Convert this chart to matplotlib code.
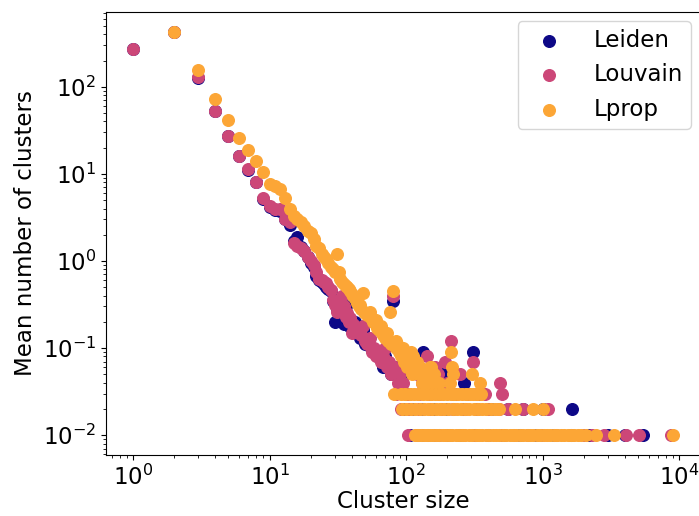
import matplotlib
matplotlib.use("Agg")
import matplotlib.pyplot as plt

# ---------------- data ----------------
series_names = ["Leiden", "Louvain", "Lprop"]
series_colors = ["#0d0887", "#cc4778", "#fca636"]

# Leiden: main band
leiden_sizes = [1, 2, 3, 4, 5, 6, 7, 8, 9, 10, 11, 12, 13, 14, 15, 16, 17, 18, 19, 20,
                21, 22, 23, 24, 25, 26, 27, 28, 29, 30, 31, 32, 33, 35, 36, 38, 40, 42, 44, 46,
                48, 50, 53, 55, 58, 61, 63, 65, 68, 70, 74, 77, 80, 85, 90, 96, 133, 141, 160, 186,
                220, 267, 307, 340]
leiden_vals = [270, 420, 125, 52, 27, 16, 11, 8, 5.2, 4.2, 3.8, 3.7, 3.0, 2.6, 1.7, 1.9, 1.45, 1.3, 1.1, 0.95,
               0.85, 0.67, 0.6, 0.58, 0.55, 0.5, 0.48, 0.45, 0.35, 0.2, 0.28, 0.3, 0.26, 0.19, 0.3, 0.18, 0.16, 0.2, 0.15, 0.13,
               0.16, 0.11, 0.12, 0.1, 0.09, 0.08, 0.08, 0.09, 0.06, 0.08, 0.07, 0.05, 0.35, 0.06, 0.04, 0.05, 0.09, 0.05, 0.04, 0.05,
               0.03, 0.04, 0.09, 0.03]
leiden_row02 = [95, 110, 130, 160, 200, 260, 330, 420, 560, 720, 1000, 1640]
leiden_row01 = [106, 130, 160, 200, 250, 320, 400, 520, 680, 900, 1200, 1600, 2200, 3000, 4000, 5400]

# Louvain: main band
louvain_sizes = [1, 2, 3, 4, 5, 6, 7, 8, 9, 10, 11, 12, 13, 14, 15, 16, 17, 18, 19, 20,
                 21, 22, 23, 24, 25, 26, 27, 28, 29, 30, 31, 32, 33, 34, 35, 36, 37, 38, 39, 40,
                 41, 42, 43, 45, 47, 48, 50, 52, 54, 56, 58, 60, 63, 66, 68, 70, 73, 75, 78, 80,
                 83, 87, 90, 95, 110, 120, 130, 141, 162, 170, 192, 200, 214, 250, 310, 484]
louvain_vals = [270, 420, 128, 53, 27, 16, 11.3, 8.1, 5.3, 4.3, 3.9, 3.9, 3.0, 2.8, 1.6, 1.5, 1.4, 1.3, 1.1, 1.0,
                0.9, 0.75, 0.62, 0.6, 0.58, 0.56, 0.5, 0.47, 0.36, 0.31, 0.26, 0.3, 0.28, 0.4, 0.3, 0.23, 0.25, 0.2, 0.22, 0.15,
                0.19, 0.17, 0.17, 0.16, 0.14, 0.18, 0.12, 0.11, 0.13, 0.09, 0.1, 0.08, 0.09, 0.07, 0.08, 0.1, 0.06, 0.07, 0.05, 0.4,
                0.06, 0.04, 0.05, 0.04, 0.06, 0.05, 0.04, 0.08, 0.06, 0.05, 0.07, 0.04, 0.12, 0.05, 0.07, 0.04]
louvain_row03 = [85, 100, 105, 125, 150, 175, 230, 280, 330, 375, 500]
louvain_row02 = [92, 105, 125, 150, 180, 220, 270, 330, 400, 480, 557, 712, 1090]
louvain_row01 = [103, 120, 145, 175, 210, 260, 320, 400, 500, 620, 780, 980, 1250, 1600, 2000, 2300,
                 2800, 4090, 5050, 8700]

# Lprop: main band
lprop_sizes = [2, 3, 4, 5, 6, 7, 8, 9, 10, 11, 12, 13, 14, 15, 16, 17, 18, 19, 20,
               21, 22, 23, 24, 25, 26, 27, 28, 29, 30, 31, 32, 33, 34, 35, 36, 37, 38, 39, 40,
               41, 42, 43, 44, 45, 46, 47, 48, 49, 50, 52, 54, 55, 57, 60, 61, 63, 65, 67, 68,
               70, 72, 74, 76, 78, 80, 84, 85, 86, 88, 90, 92, 94, 95, 97, 99, 101, 103, 105, 107,
               108, 110, 112, 113, 115, 119, 121, 125, 127, 130, 133, 138, 141, 145, 149, 153, 155, 160,
               175, 208, 214, 217, 222, 305, 346]
lprop_vals = [426, 155, 73, 42, 26, 19, 14, 10.4, 7.6, 7.3, 6.7, 5.3, 3.9, 3.3, 3.0, 2.8, 2.5, 2.2, 2.1,
              1.8, 1.5, 1.4, 1.2, 1.1, 1.05, 0.95, 0.85, 0.8, 0.75, 1.19, 0.74, 0.62, 0.58, 0.55, 0.52, 0.5, 0.48, 0.45, 0.42,
              0.4, 0.38, 0.36, 0.33, 0.3, 0.31, 0.28, 0.43, 0.26, 0.25, 0.24, 0.26, 0.22, 0.2, 0.21, 0.17, 0.16, 0.18, 0.15, 0.14,
              0.13, 0.15, 0.12, 0.26, 0.11, 0.45, 0.12, 0.1, 0.11, 0.09, 0.1, 0.08, 0.09, 0.1, 0.07, 0.08, 0.06, 0.07, 0.08, 0.06,
              0.09, 0.05, 0.07, 0.08, 0.06, 0.06, 0.07, 0.05, 0.06, 0.04, 0.05, 0.04, 0.05, 0.05, 0.06, 0.06, 0.04, 0.05,
              0.04, 0.04, 0.09, 0.06, 0.05, 0.05, 0.04]
lprop_row03 = [82, 91, 98, 106, 114, 123, 132, 142, 152, 163, 174, 186, 199, 212, 226, 241, 257, 274, 292,
               311, 331, 352]
lprop_row02 = [93, 100, 109, 117, 126, 135, 144, 154, 165, 177, 190, 204, 219, 235, 252, 270, 290, 312,
               335, 360, 387, 416, 447, 480, 624, 843, 997]
lprop_row01 = [116, 122, 128, 135, 142, 150, 158, 166, 175, 185, 195, 206, 218, 230, 243, 257, 272, 288,
               305, 323, 342, 362, 383, 405, 430, 455, 482, 510, 540, 572, 606, 642, 680, 720, 762, 807,
               855, 905, 960, 1015, 1075, 1140, 1210, 1280, 1355, 1435, 1520, 1610, 1705, 1810, 1920, 2080,
               2450, 3330, 9000]

# ---------------- plot ----------------
fig = plt.figure(figsize=(6.99, 5.16), dpi=100)
ax = fig.add_axes([106 / 699, 1 - 455.3 / 516, 594 / 699, 443.5 / 516])

ms = 70
groups = [
    (leiden_sizes + leiden_row02 + leiden_row01,
     leiden_vals + [0.02] * len(leiden_row02) + [0.01] * len(leiden_row01)),
    (louvain_sizes + louvain_row03 + louvain_row02 + louvain_row01,
     louvain_vals + [0.03] * len(louvain_row03) + [0.02] * len(louvain_row02) + [0.01] * len(louvain_row01)),
    (lprop_sizes + lprop_row03 + lprop_row02 + lprop_row01,
     lprop_vals + [0.03] * len(lprop_row03) + [0.02] * len(lprop_row02) + [0.01] * len(lprop_row01)),
]
for (xs, ys), name, col in zip(groups, series_names, series_colors):
    ax.scatter(xs, ys, s=ms, color=col, label=name)

ax.set_xscale("log")
ax.set_yscale("log")
ax.set_xlim(0.634, 14190)
ax.set_ylim(0.00587, 725)

fs = 16.5
ax.set_xlabel("Cluster size", fontsize=fs, labelpad=0)
ax.set_ylabel("Mean number of clusters", fontsize=fs)
ax.tick_params(axis="both", which="major", labelsize=fs)

ax.legend(loc="upper right", fontsize=fs, handletextpad=0.95, borderpad=0.35,
          labelspacing=0.5, borderaxespad=0.4, scatterpoints=1)

fig.savefig("out.png", dpi=100)
